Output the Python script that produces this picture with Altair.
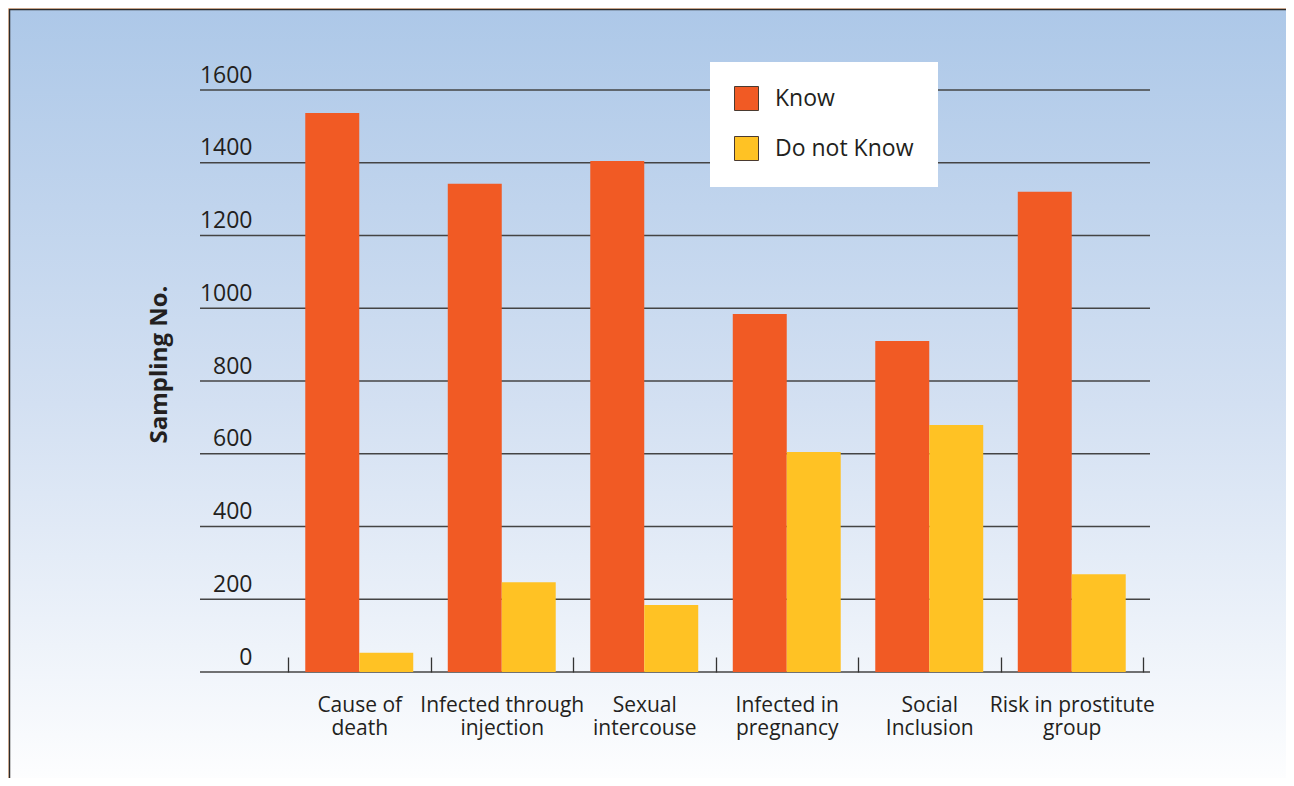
import altair as alt
import pandas as pd

CATEGORY_LINES = [
    ["Cause of", "death"],
    ["Infected through", "injection"],
    ["Sexual", "intercouse"],
    ["Infected in", "pregnancy"],
    ["Social", "Inclusion"],
    ["Risk in prostitute", "group"],
]
CATEGORIES = [" ".join(l) for l in CATEGORY_LINES]
SERIES = ["Know", "Do not Know"]
KNOW = [1537, 1342, 1405, 984, 910, 1320]
DO_NOT_KNOW = [53, 247, 184, 605, 679, 269]
Y_TICKS = [0, 200, 400, 600, 800, 1000, 1200, 1400, 1600]
COLORS = ["#F15A24", "#FFC224"]

rows = []
for c, k, d in zip(CATEGORIES, KNOW, DO_NOT_KNOW):
    rows.append({"category": c, "series": "Know", "value": k})
    rows.append({"category": c, "series": "Do not Know", "value": d})
bars_df = pd.DataFrame(rows)
grid_df = pd.DataFrame({"tick": Y_TICKS})

W, H = 865, 582
PL, PT = 277, 82
PR, PB = 1278 - PL - W, 770 - PT - H

label_expr = "datum.label"
for c, lines in reversed(list(zip(CATEGORIES, CATEGORY_LINES))):
    arr = "[" + ",".join("'" + s + "'" for s in lines) + "]"
    label_expr = f"datum.label == '{c}' ? {arr} : ({label_expr})"

gradient = alt.LinearGradient(
    gradient="linear",
    stops=[
        alt.GradientStop(color="#ADC8E8", offset=0),
        alt.GradientStop(color="#D3E0F2", offset=0.5),
        alt.GradientStop(color="#FFFFFF", offset=1),
    ],
    x1=0, x2=0, y1=0, y2=1,
)

background = alt.Chart(alt.Data(values=[{"bg": 1}])).mark_rect(
    fill=gradient, stroke="#2b2b2b", strokeWidth=1.5
).encode(
    x=alt.value(-275.5), x2=alt.value(W + PR + 20),
    y=alt.value(-80.5), y2=alt.value(H + PB + 20),
)

grid = alt.Chart(grid_df).mark_rule(color="#444444", strokeWidth=1.4).encode(
    y=alt.Y("tick:Q", scale=alt.Scale(domain=[0, 1600])),
    x=alt.value(-85), x2=alt.value(W),
)

bars = alt.Chart(bars_df).mark_bar().encode(
    x=alt.X(
        "category:N", sort=CATEGORIES,
        scale=alt.Scale(paddingInner=0, paddingOuter=0, range=[3, 858]),
        axis=alt.Axis(
            title=None, orient="bottom", offset=-15, domain=False, grid=False,
            ticks=True, tickBand="extent", tickSize=15, tickColor="#333333",
            tickWidth=1.3, labelAngle=0, labelPadding=22, labelFontSize=21,
            labelLineHeight=23, labelBaseline="top", labelColor="#231F20",
            labelExpr=label_expr, zindex=2,
        ),
    ),
    xOffset=alt.XOffset(
        "series:N", sort=SERIES,
        scale=alt.Scale(paddingInner=0, paddingOuter=0.32),
    ),
    y=alt.Y(
        "value:Q", scale=alt.Scale(domain=[0, 1600]),
        axis=alt.Axis(
            values=Y_TICKS, format="d", domain=False, ticks=False, grid=False,
            labelPadding=33, labelFontSize=23, labelColor="#231F20",
            labelBaseline="alphabetic", labelOffset=-8,
            title="Sampling No.", titleFontSize=24, titleFontWeight="bold",
            titleColor="#231F20", titleAngle=270, titleX=-126, titleY=274,
            titleAlign="center", titleBaseline="middle", zindex=2,
        ),
    ),
    color=alt.Color(
        "series:N", sort=SERIES,
        scale=alt.Scale(domain=SERIES, range=COLORS),
        legend=alt.Legend(
            title=None, orient="none", legendX=425, legendY=-28,
            fillColor="#FFFFFF", padding=24, symbolType="square",
            symbolSize=576, symbolStrokeColor="#4a3a30", symbolStrokeWidth=1,
            symbolOpacity=1, labelFontSize=23, labelColor="#231F20",
            labelOffset=16, rowPadding=21, zindex=3,
        ),
    ),
)

chart = alt.layer(background, grid, bars).properties(
    width=W, height=H,
    padding={"left": PL, "top": PT, "right": PR, "bottom": PB},
    autosize=alt.AutoSizeParams(type="none"),
    background="#FFD0AE",
).configure(font="Open Sans").configure_view(stroke=None)

chart.save("out.html", embed_options={"renderer": "svg", "actions": False})
